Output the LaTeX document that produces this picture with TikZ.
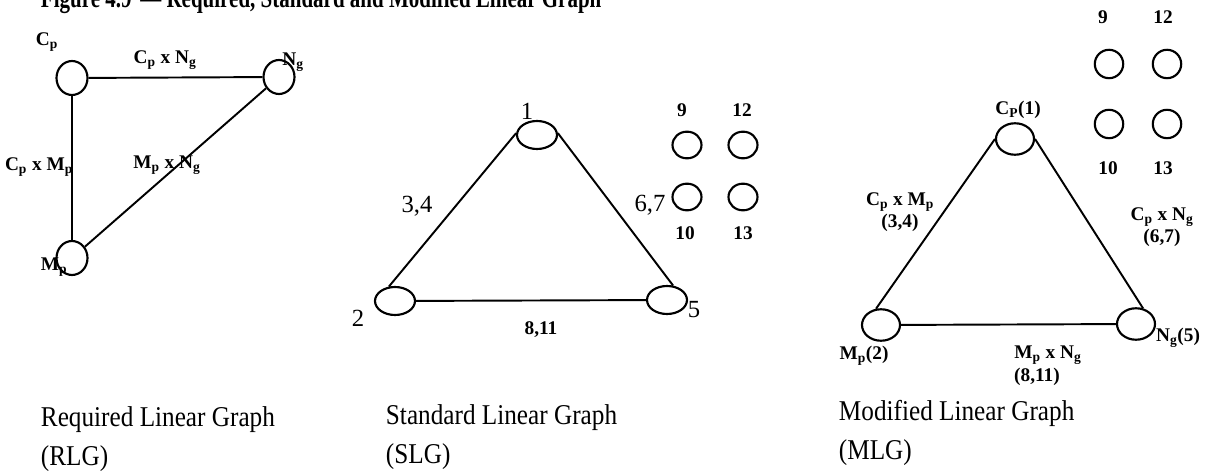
\documentclass[tikz,border=0pt]{standalone}
\usepackage{fontspec}
\setmainfont{Liberation Serif}
\usetikzlibrary{shapes.geometric}
\begin{document}
\begin{tikzpicture}[x=0.75pt,y=-0.75pt,
  line width=1.45pt,
  el/.style={draw, ellipse, inner sep=0pt, line width=1.6pt},
  rl/.style={el, minimum width=23.25pt, minimum height=25.5pt},
  sl/.style={el, minimum width=30pt, minimum height=21pt},
  ml/.style={el, minimum width=28.5pt, minimum height=23.6pt},
  sm/.style={el, minimum width=21.75pt, minimum height=20pt},
  smm/.style={el, minimum width=21.3pt, minimum height=21.3pt},
  lbl/.style={inner sep=0pt, font=\fontsize{14.5}{16}\selectfont\bfseries},
  num/.style={inner sep=0pt, font=\fontsize{18.5}{20}\selectfont},
  capt/.style={inner sep=0pt, anchor=base west, font=\fontsize{21.5}{24}\selectfont},
]
\path[use as bounding box, clip] (0,0) rectangle (1211,474);

% clipped title
\node[inner sep=0pt, anchor=base west, font=\fontsize{21}{24}\selectfont\bfseries] (title) at (40,8)
  {\scalebox{0.75}[1]{Figure 4.9 \,— Required, Standard and Modified Linear Graph}};

% ---------- Required Linear Graph ----------
\node[rl] (cp) at (72,78) {};
\node[rl] (ng) at (279,77) {};
\node[rl] (mp) at (72,258) {};
\draw (cp) -- (ng);
\draw (cp) -- (mp);
\draw (mp) -- (ng);
\node[lbl] (lcp) at (47,42) {C\textsubscript{p}};
\node[lbl] (lng) at (293,62) {N\textsubscript{g}};
\node[lbl] (lmp) at (54,267) {M\textsubscript{p}};
\node[lbl] (lcpng) at (165,60) {C\textsubscript{p} x N\textsubscript{g}};
\node[lbl] (lcpmp) at (39,167) {C\textsubscript{p} x M\textsubscript{p}};
\node[lbl] (lmpng) at (167,165) {M\textsubscript{p} x N\textsubscript{g}};

% ---------- Standard Linear Graph ----------
\node[sl] (s1) at (537,135) {};
\node[sl] (s2) at (395,301) {};
\node[sl] (s5) at (667,300) {};
\draw (s2.113) -- (s1.175);
\draw (s1.5) -- (s5.67);
\draw (s2) -- (s5);
\node[num] (l1) at (527,111) {1};
\node[num] (l2) at (358,318) {2};
\node[num] (l5) at (694,310) {5};
\node[num] (l34) at (417,206) {3,4};
\node[num] (l67) at (650,205) {6,7};
\node[lbl] (l811) at (541,330) {8,11};
\node[sm] (c9) at (687,145) {};
\node[sm] (c12) at (743,145) {};
\node[sm] (c10) at (687,197) {};
\node[sm] (c13) at (743,197) {};
\node[lbl] (t9) at (682,110) {9};
\node[lbl] (t12) at (742,110) {12};
\node[lbl] (t10) at (685,233) {10};
\node[lbl] (t13) at (743,233) {13};

% ---------- Modified Linear Graph ----------
\node[ml] (m1) at (1015,139) {};
\node[ml] (m2) at (881,325) {};
\node[ml] (m5) at (1136,324) {};
\draw (m2.107) -- (m1.180);
\draw (m1.0) -- (m5.66);
\draw (m2) -- (m5);
\node[lbl] (lm1) at (1018,110) {C\textsubscript{P}(1)};
\node[lbl] (lm2) at (864,356) {M\textsubscript{p}(2)};
\node[lbl] (lm5) at (1178,338) {N\textsubscript{g}(5)};
\node[lbl] (lmcm) at (900,202) {C\textsubscript{p} x M\textsubscript{p}};
\node[lbl] (lm34) at (900,223) {(3,4)};
\node[lbl] (lmcn) at (1162,217) {C\textsubscript{p} x N\textsubscript{g}};
\node[lbl] (lm67) at (1162,238) {(6,7)};
\node[lbl] (lmmn) at (1048,355) {M\textsubscript{p} x N\textsubscript{g}};
\node[lbl] (lm811) at (1037,377) {(8,11)};
\node[smm] (d9) at (1109,64) {};
\node[smm] (d12) at (1167,64) {};
\node[smm] (d10) at (1109,124) {};
\node[smm] (d13) at (1167,124) {};
\node[lbl] (u9) at (1103,17) {9};
\node[lbl] (u12) at (1163,17) {12};
\node[lbl] (u10) at (1108,168) {10};
\node[lbl] (u13) at (1163,168) {13};

% ---------- captions ----------
\node[capt] (capR1) at (40,426) {\scalebox{0.88}[1]{Required Linear Graph}};
\node[capt] (capR2) at (40,465) {\scalebox{0.88}[1]{(RLG)}};
\node[capt] (capS1) at (385,424) {\scalebox{0.88}[1]{Standard Linear Graph}};
\node[capt] (capS2) at (385,463) {\scalebox{0.88}[1]{(SLG)}};
\node[capt] (capM1) at (838,420) {\scalebox{0.88}[1]{Modified Linear Graph}};
\node[capt] (capM2) at (838,459) {\scalebox{0.88}[1]{(MLG)}};
\end{tikzpicture}
\end{document}
